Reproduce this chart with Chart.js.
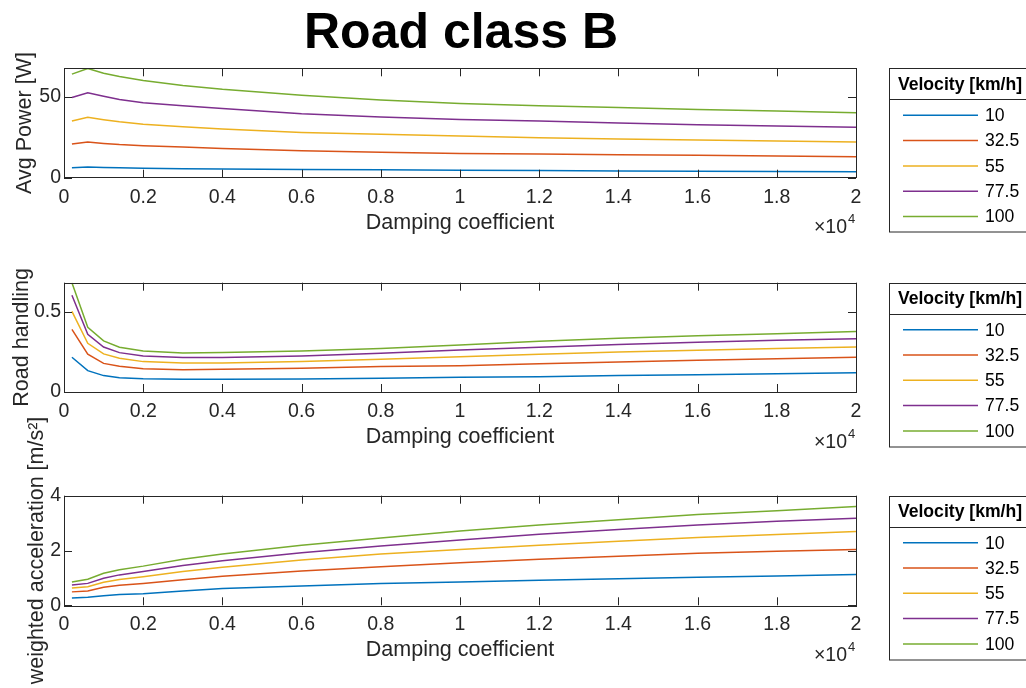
<!DOCTYPE html>
<html>
<head>
<meta charset="utf-8">
<script src="https://cdn.jsdelivr.net/npm/chart.js@4.4.1/dist/chart.umd.min.js"></script>
<style>
  html, body { margin: 0; padding: 0; background: #fff; }
  #wrap { position: relative; width: 1026px; height: 688px; overflow: hidden; }
  canvas { position: absolute; left: 0; }
  #title {
    position: absolute; left: 0; top: 7px; width: 922px; text-align: center;
    font: bold 50px 'Liberation Sans', Arial, sans-serif; line-height: 48px; color: #000;
    z-index: 5;
  }
</style>
</head>
<body>
<div id="wrap">
  <div id="title">Road class B</div>
  <canvas id="cPower" width="1026" height="250" style="top:0px"></canvas>
  <canvas id="cHandling" width="1026" height="220" style="top:250px"></canvas>
  <canvas id="cAccel" width="1026" height="293" style="top:395px"></canvas>
</div>
<script>
// damping coefficient [Ns/m]
const damping = [200, 600, 1000, 1400, 2000, 3000, 4000, 6000, 8000, 10000, 12000, 14000, 16000, 18000, 20000];
const speeds = ['10', '32.5', '55', '77.5', '100'];
const colors = ['#0072BD', '#D95319', '#EDB120', '#7E2F8E', '#77AC30'];

// Avg Power [W]
const powerV10  = [6.2, 6.6, 6.3, 6.1, 5.8, 5.6, 5.4, 5.1, 4.9, 4.6, 4.4, 4.2, 4.0, 3.9, 3.7];
const powerV32  = [20.8, 22.0, 21.2, 20.5, 19.8, 18.9, 18.1, 16.7, 15.7, 15.0, 14.6, 14.2, 13.8, 13.4, 13.0];
const powerV55  = [35.0, 37.3, 35.8, 34.5, 33.1, 31.5, 30.1, 28.0, 26.8, 25.7, 24.7, 23.9, 23.3, 22.7, 22.0];
const powerV77  = [49.6, 52.5, 50.3, 48.3, 46.3, 44.4, 42.8, 39.5, 37.5, 36.0, 35.0, 33.8, 32.7, 31.9, 31.1];
const powerV100 = [64.0, 67.5, 64.5, 62.5, 60.0, 57.0, 54.6, 51.0, 48.0, 45.9, 44.5, 43.4, 42.2, 41.2, 40.1];

// Road handling
const handlingV10  = [0.216, 0.133, 0.102, 0.089, 0.083, 0.080, 0.079, 0.081, 0.085, 0.091, 0.095, 0.102, 0.108, 0.114, 0.120];
const handlingV32  = [0.390, 0.235, 0.178, 0.160, 0.145, 0.139, 0.141, 0.147, 0.158, 0.164, 0.176, 0.187, 0.197, 0.207, 0.216];
const handlingV55  = [0.502, 0.303, 0.237, 0.210, 0.189, 0.180, 0.180, 0.189, 0.203, 0.220, 0.235, 0.249, 0.260, 0.270, 0.280];
const handlingV77  = [0.602, 0.359, 0.280, 0.245, 0.224, 0.214, 0.214, 0.224, 0.241, 0.262, 0.278, 0.295, 0.309, 0.322, 0.332];
const handlingV100 = [0.680, 0.403, 0.318, 0.278, 0.255, 0.243, 0.245, 0.255, 0.270, 0.293, 0.316, 0.334, 0.350, 0.363, 0.376];

// weighted acceleration [m/s^2]
const accelV10  = [0.27, 0.29, 0.35, 0.39, 0.42, 0.52, 0.61, 0.70, 0.80, 0.85, 0.91, 0.97, 1.02, 1.07, 1.12];
const accelV32  = [0.49, 0.52, 0.66, 0.73, 0.80, 0.93, 1.06, 1.25, 1.41, 1.55, 1.68, 1.79, 1.90, 1.97, 2.04];
const accelV55  = [0.63, 0.68, 0.84, 0.94, 1.04, 1.23, 1.39, 1.65, 1.87, 2.04, 2.19, 2.34, 2.47, 2.58, 2.69];
const accelV77  = [0.74, 0.80, 0.99, 1.11, 1.23, 1.45, 1.63, 1.92, 2.16, 2.38, 2.59, 2.77, 2.93, 3.07, 3.18];
const accelV100 = [0.85, 0.95, 1.17, 1.30, 1.43, 1.68, 1.87, 2.19, 2.46, 2.71, 2.93, 3.12, 3.31, 3.45, 3.61];

const FONT = "'Liberation Sans', Arial, Helvetica, sans-serif";
const AXIS = '#262626';
Chart.defaults.font.family = FONT;
Chart.defaults.color = AXIS;

// box, inward ticks on all sides, x10^4 note and legend box (matlab look)
const matlabAxes = {
  id: 'matlabAxes',
  afterDraw(chart) {
    const { ctx, chartArea: a, scales: { x, y } } = chart;
    const tl = 8;
    ctx.save();
    ctx.strokeStyle = AXIS;
    ctx.lineWidth = 1;
    ctx.beginPath();
    x.ticks.forEach(t => {
      const px = Math.round(x.getPixelForValue(t.value)) + 0.5;
      ctx.moveTo(px, a.bottom); ctx.lineTo(px, a.bottom - tl);
      ctx.moveTo(px, a.top); ctx.lineTo(px, a.top + tl);
    });
    y.ticks.forEach(t => {
      const py = Math.round(y.getPixelForValue(t.value)) + 0.5;
      ctx.moveTo(a.left, py); ctx.lineTo(a.left + tl, py);
      ctx.moveTo(a.right, py); ctx.lineTo(a.right - tl, py);
    });
    ctx.stroke();
    ctx.strokeRect(Math.round(a.left) + 0.5, Math.round(a.top) + 0.5, Math.round(a.width), Math.round(a.height));

    // exponent label
    ctx.fillStyle = AXIS;
    ctx.textBaseline = 'alphabetic';
    ctx.textAlign = 'right';
    ctx.font = '19.5px ' + FONT;
    ctx.fillText('\u00d710', a.right - 9, a.bottom + 55.5);
    ctx.textAlign = 'left';
    ctx.font = '13px ' + FONT;
    ctx.fillText('4', a.right - 8, a.bottom + 45.5);

    // legend
    const lx = a.right + 33, ly = a.top, lw = 142, lh = 163.5;
    ctx.fillStyle = '#fff';
    ctx.fillRect(lx, ly, lw, lh);
    ctx.strokeStyle = AXIS;
    ctx.strokeRect(Math.round(lx) + 0.5, Math.round(ly) + 0.5, lw, lh);
    ctx.beginPath();
    ctx.moveTo(lx, Math.round(ly + 31) + 0.5); ctx.lineTo(lx + lw, Math.round(ly + 31) + 0.5);
    ctx.stroke();
    ctx.fillStyle = '#000';
    ctx.font = 'bold 17.6px ' + FONT;
    ctx.textAlign = 'center';
    ctx.textBaseline = 'middle';
    ctx.fillText('Velocity [km/h]', lx + lw / 2, ly + 16.7);
    ctx.font = '17.6px ' + FONT;
    ctx.textAlign = 'left';
    chart.data.datasets.forEach((ds, i) => {
      const ry = ly + 47 + i * 25.3;
      ctx.strokeStyle = ds.borderColor;
      ctx.lineWidth = 1.5;
      ctx.beginPath();
      ctx.moveTo(lx + 14, ry); ctx.lineTo(lx + 89, ry);
      ctx.stroke();
      ctx.fillStyle = '#000';
      ctx.fillText(ds.label, lx + 96, ry + 1);
    });
    ctx.restore();
  }
};

function makeChart(id, series, yTitle, yMax, yStep, pad, titlePadLeft) {
  const datasets = series.map((vals, i) => ({
    label: speeds[i],
    data: damping.map((d, k) => ({ x: d, y: vals[k] })),
    borderColor: colors[i],
    backgroundColor: colors[i],
    borderWidth: 1.5,
    pointRadius: 0,
    tension: 0,
    fill: false
  }));
  return new Chart(document.getElementById(id), {
    type: 'line',
    data: { datasets },
    plugins: [matlabAxes],
    options: {
      responsive: false,
      animation: false,
      layout: { padding: { left: 0, right: 170, top: pad.top, bottom: pad.bottom } },
      plugins: { legend: { display: false }, tooltip: { enabled: false } },
      scales: {
        x: {
          type: 'linear',
          min: 0, max: 20000,
          grid: { display: false, drawTicks: false },
          border: { display: false },
          ticks: {
            stepSize: 2000, padding: 8, maxRotation: 0, autoSkip: false,
            color: AXIS, font: { size: 19.5 },
            callback: v => String(+(v / 10000).toFixed(1))
          },
          title: { display: true, text: 'Damping coefficient', color: AXIS, font: { size: 21.5 }, padding: { top: 0, bottom: 2 } },
          afterFit: s => { s.height = 60; }
        },
        y: {
          min: 0, max: yMax,
          grid: { display: false, drawTicks: false },
          border: { display: false },
          ticks: { stepSize: yStep, includeBounds: false, padding: 3, color: AXIS, font: { size: 19.5 } },
          title: { display: true, text: yTitle, color: AXIS, font: { size: 21.5 }, padding: { top: titlePadLeft, bottom: 0 } },
          afterFit: s => { s.width = 64; }
        }
      }
    }
  });
}

makeChart('cPower', [powerV10, powerV32, powerV55, powerV77, powerV100],
  'Avg Power [W]', 67.6, 50, { top: 68.3, bottom: 12.3 }, 12);
makeChart('cHandling', [handlingV10, handlingV32, handlingV55, handlingV77, handlingV100],
  'Road handling', 0.68, 0.5, { top: 32.7, bottom: 18 }, 9);
makeChart('cAccel', [accelV10, accelV32, accelV55, accelV77, accelV100],
  'weighted acceleration [m/s\u00b2]', 4, 2, { top: 100.7, bottom: 22.7 }, 24);
</script>
</body>
</html>
